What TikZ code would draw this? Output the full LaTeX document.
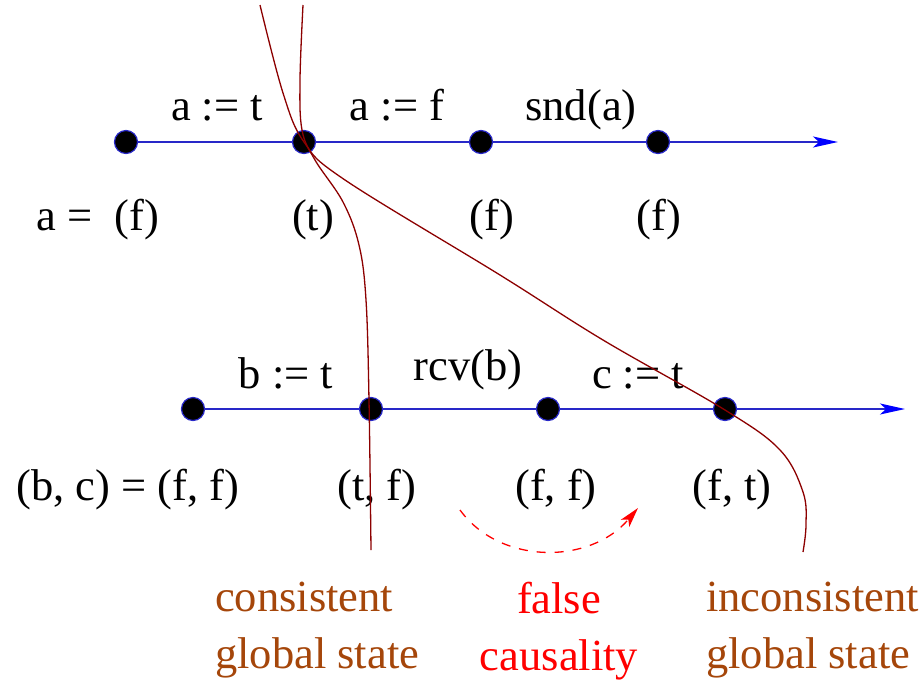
\documentclass[tikz,border=0pt]{standalone}
\usepackage{fontspec}
\setmainfont{Liberation Serif}
\usetikzlibrary{arrows.meta}
\definecolor{axisblue}{RGB}{40,40,200}
\definecolor{cutred}{RGB}{140,0,0}
\definecolor{labbrown}{RGB}{165,70,10}
\definecolor{falsered}{RGB}{255,0,0}
\begin{document}
\begin{tikzpicture}[x=1pt,y=-1pt,
  event/.style={circle,draw=axisblue,fill=black,line width=1.2pt,minimum size=23pt,inner sep=0pt},
  axis/.style={axisblue,line width=1.8pt,-{Stealth[length=25pt,width=11pt,inset=6pt,fill=blue,color=blue]}},
  seg/.style={axisblue,line width=1.8pt},
  lab/.style={font=\fontsize{44.5}{57}\selectfont,inner sep=0pt,anchor=base,text=black},
  cut/.style={cutred,line width=1.3pt},
  note/.style={font=\fontsize{44.5}{57}\selectfont,inner sep=0pt,align=left,anchor=north west},
]
\useasboundingbox (0,0) rectangle (921,681);
% process a
\node[event] (a1) at (126,142) {};
\node[event] (a2) at (304,142) {};
\node[event] (a3) at (481,142) {};
\node[event] (a4) at (658,142) {};
\coordinate (aend) at (838,142);
% process b
\node[event] (b1) at (193,409) {};
\node[event] (b2) at (371,409) {};
\node[event] (b3) at (548,409) {};
\node[event] (b4) at (725,409) {};
\coordinate (bend) at (905,409);
% axes
\draw[seg] (a1) -- (a2);
\draw[seg] (a2) -- (a3);
\draw[seg] (a3) -- (a4);
\draw[axis] (a4) -- (aend);
\draw[seg] (b1) -- (b2);
\draw[seg] (b2) -- (b3);
\draw[seg] (b3) -- (b4);
\draw[axis] (b4) -- (bend);
% labels top
\node[lab] (la1) at (217,120) {a := t};
\node[lab] (la2) at (397,120) {a := f};
\node[lab] (la3) at (581,120) {snd(a)};
\node[lab] (sa0) at (98,230) {a =\ \ (f)};
\node[lab] (sa1) at (313,230) {(t)};
\node[lab] (sa2) at (492,230) {(f)};
\node[lab] (sa3) at (659,230) {(f)};
% labels bottom
\node[lab] (lb1) at (286,388) {b := t};
\node[lab] (lb2) at (468,380) {rcv(b)};
\node[lab] (lb3) at (638,388) {c := t};
\node[lab] (sb0) at (128,500) {(b, c) = (f, f)};
\node[lab] (sb1) at (377,500) {(t, f)};
\node[lab] (sb2) at (556,500) {(f, f)};
\node[lab] (sb3) at (732,500) {(f, t)};
% cuts
\draw[cut] plot[smooth,tension=0.6] coordinates {(303,5) (300,80) (302,130) (315,160) (343,202) (359,245) (366,300) (369,400) (371,550)};
\draw[cut] plot[smooth,tension=0.6] coordinates {(260,5) (283,93) (304,142) (345,180) (500,275) (603,340) (725,410) (780,450) (803,492) (806,525) (803,552)};
% false causality arrow
\coordinate (fc1) at (460,510);
\coordinate (fc2) at (638,508);
\draw[falsered,line width=1.3pt,dash pattern=on 9pt off 9pt,-{Stealth[length=20pt,width=11pt,inset=5pt,fill=falsered]}]
  (fc1) .. controls (500,565) and (590,565) .. (fc2);
% notes
\node[note,text=labbrown] (n1) at (215,582) {consistent\\global state};
\node[note,text=falsered,align=center,anchor=north] (n2) at (559,582) {false\\causality};
\node[note,text=labbrown] (n3) at (706,582) {inconsistent\\global state};
\end{tikzpicture}
\end{document}
